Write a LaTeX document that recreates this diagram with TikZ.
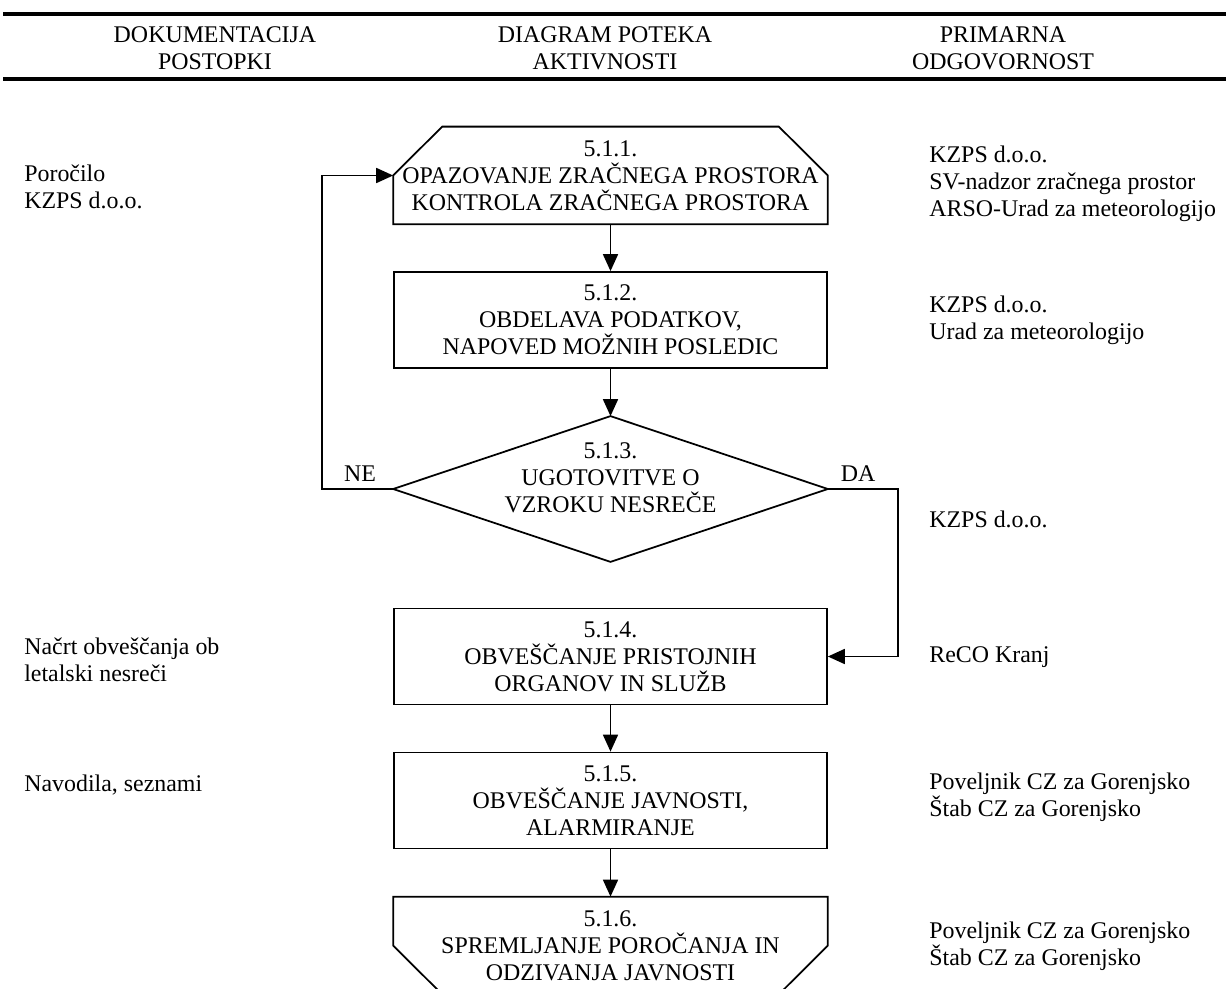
\documentclass[tikz,border=0pt]{standalone}
\usepackage{fontspec}
\setmainfont{Liberation Serif}
\usepackage{tikz}
\usetikzlibrary{arrows.meta, calc, positioning}

\tikzset{
	txt/.style={font=\fontsize{13.6}{15.4}\selectfont, inner sep=0pt},
	stepbox/.style={txt, draw, line width=1pt, minimum width=8.66cm, minimum height=1.92cm, align=center},
	stepline/.style={line width=1pt},
	flow/.style={line width=1pt, -{Triangle[length=0.34cm, width=0.3cm]}},
	sidetxt/.style={txt, anchor=west, align=left},
	headtxt/.style={txt, align=center},
	rule/.style={line width=1.8pt}
}

\begin{document}
\begin{tikzpicture}[x=0.02cm, y=-0.02cm]
		\useasboundingbox (0,0) rectangle (1226,989);
		
		\draw [rule] (3,14) -- (1226,14);
		\draw [rule] (3,79) -- (1226,79);
		\node (headdok) [headtxt] at (215,48) {DOKUMENTACIJA\\POSTOPKI};
		\node (headdia) [headtxt] at (605,48) {DIAGRAM POTEKA\\AKTIVNOSTI};
		\node (headodg) [headtxt] at (1003,48) {PRIMARNA\\ODGOVORNOST};
		
		\node (s511) [stepbox, draw=none] at (610.5,175.5) {5.1.1.\\OPAZOVANJE ZRAČNEGA PROSTORA\\KONTROLA ZRAČNEGA PROSTORA};
		\draw [stepline] (s511.south west) -- (s511.west) -- ($(s511.north west)+(49,0)$) -- ($(s511.north east)+(-49,0)$) -- (s511.east) -- (s511.south east) -- cycle;
		
		\node (s512) [stepbox] at (610.5,320) {5.1.2.\\OBDELAVA PODATKOV,\\NAPOVED MOŽNIH POSLEDIC};
		
		\node (s513) [stepbox, draw=none, minimum height=2.88cm] at (610.5,489) {};
		\draw [stepline] (s513.north) -- (s513.east) -- (s513.south) -- (s513.west) -- cycle;
		\node (s513txt) [txt, align=center] at (610.5,478) {5.1.3.\\UGOTOVITVE O\\VZROKU NESREČE};
		
		\node (s514) [stepbox] at (610.5,656.5) {5.1.4.\\OBVEŠČANJE PRISTOJNIH\\ORGANOV IN SLUŽB};
		\node (s515) [stepbox] at (610.5,800.5) {5.1.5.\\OBVEŠČANJE JAVNOSTI,\\ALARMIRANJE};
		
		\node (s516) [stepbox, draw=none] at (610.5,945.5) {5.1.6.\\SPREMLJANJE POROČANJA IN\\ODZIVANJA JAVNOSTI};
		\begin{scope}
			\clip (0,0) rectangle (1226,989);
			\draw [stepline] (s516.west) -- (s516.north west) -- (s516.north east) -- (s516.east) -- ($(s516.south east)+(-49,0)$) -- ($(s516.south west)+(49,0)$) -- cycle;
		\end{scope}
		
		\draw [flow] (s511) -- (s512);
		\draw [flow] (s512) -- (s513);
		\draw [flow] (s514) -- (s515);
		\draw [flow] (s515) -- (s516);
		
		\coordinate (neturn) at (322,489);
		\coordinate (daturn) at (898,489);
		\draw [flow] (s513.west) -- (neturn) |- (s511.west);
		\draw [flow] (s513.east) -- (daturn) |- (s514.east);
		\node (nelabel) [txt] at (360,474) {NE};
		\node (dalabel) [txt] at (858,474) {DA};
		
		\node (docporocilo) [sidetxt] at (24,187) {Poročilo\\KZPS d.o.o.};
		\node (docnacrt) [sidetxt] at (24,659.5) {Načrt obveščanja ob\\letalski nesreči};
		\node (docnavodila) [sidetxt] at (24,785) {Navodila, seznami};
		
		\node (odgs511) [sidetxt] at (929,183.5) {KZPS d.o.o.\\SV-nadzor zračnega prostor\\ARSO-Urad za meteorologijo};
		\node (odgs512) [sidetxt] at (929,320.5) {KZPS d.o.o.\\Urad za meteorologijo};
		\node (odgs513) [sidetxt] at (929,519) {KZPS d.o.o.};
		\node (odgs514) [sidetxt] at (929,657) {ReCO Kranj};
		\node (odgs515) [sidetxt] at (929,797.5) {Poveljnik CZ za Gorenjsko\\Štab CZ za Gorenjsko};
		\node (odgs516) [sidetxt] at (929,946) {Poveljnik CZ za Gorenjsko\\Štab CZ za Gorenjsko};
		
	\end{tikzpicture}
\end{document}
